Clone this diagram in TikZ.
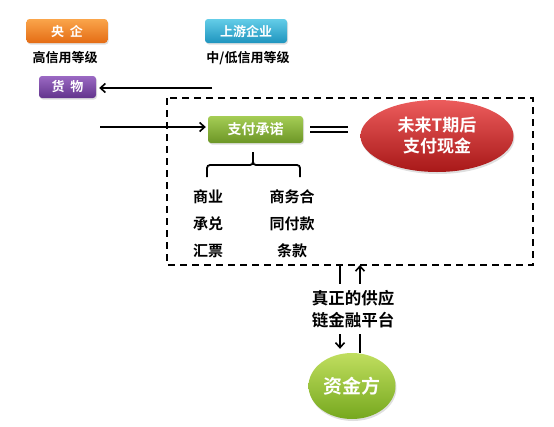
\documentclass[tikz,border=0pt]{standalone}
\usepackage{fontspec}
\newfontfamily\cjk{Noto Sans CJK SC}[BoldFont={Noto Sans CJK SC Bold}]
\usetikzlibrary{shapes.geometric,arrows.meta,shadows}
\definecolor{orangetop}{RGB}{250,165,75}
\definecolor{orangebot}{RGB}{228,108,20}
\definecolor{tealtop}{RGB}{100,205,232}
\definecolor{tealbot}{RGB}{30,148,190}
\definecolor{purptop}{RGB}{155,105,195}
\definecolor{purpbot}{RGB}{98,52,140}
\definecolor{greentop}{RGB}{165,205,85}
\definecolor{greenbot}{RGB}{108,150,38}
\definecolor{redtop}{RGB}{236,92,92}
\definecolor{redbot}{RGB}{168,24,24}
\definecolor{limetop}{RGB}{192,222,95}
\definecolor{limebot}{RGB}{118,168,30}
\tikzset{
  tag/.style={rounded corners=3pt,inner sep=0pt,text=white,
    drop shadow={opacity=0.25,shadow xshift=1pt,shadow yshift=-1.5pt},
    font=\cjk\bfseries\fontsize{13}{13}\selectfont},
  lbl/.style={inner sep=0pt,text=black,
    font=\cjk\bfseries\fontsize{13}{13}\selectfont},
  arr/.style={line width=1.6pt,-{Straight Barb[length=5pt,width=9pt]}},
}
\begin{document}
\begin{tikzpicture}[x=1pt,y=-1pt]
  \useasboundingbox (0,0) rectangle (554,426);
  \pgfmathsetmacro{\boxl}{167}
  \pgfmathsetmacro{\boxr}{533}
  \pgfmathsetmacro{\boxt}{98}
  \pgfmathsetmacro{\boxb}{265}
  % top row: firms
  \node[tag,top color=orangetop,bottom color=orangebot,minimum width=81pt,minimum height=24pt] (yangqi) at (67,31) {央\ \ 企};
  \node[lbl] (gaoxin) at (65,58) {高信用等级};
  \node[tag,top color=tealtop,bottom color=tealbot,minimum width=82pt,minimum height=24pt] (shangyou) at (246,31) {上游企业};
  \node[lbl] (zhongdi) at (248,58) {中/低信用等级};
  \node[tag,top color=purptop,bottom color=purpbot,minimum width=57pt,minimum height=22pt] (huowu) at (67.5,87) {货\ \ 物};
  \coordinate (hw-src) at (212,88);
  \draw[arr,shorten >=3pt] (hw-src) -- (hw-src -| huowu.east);
  % dashed platform
  \draw[line width=1.8pt,dash pattern=on 7pt off 5pt] (\boxl,\boxt) rectangle (\boxr,\boxb);
  \coordinate (in-src) at (100,127);
  \node[tag,top color=greentop,bottom color=greenbot,minimum width=95pt,minimum height=27pt,
    font=\cjk\bfseries\fontsize{14}{14}\selectfont] (zhifu) at (255.5,129.5) {支付承诺};
  \draw[arr,shorten >=2pt] (in-src) -- (in-src -| zhifu.west);
  \node[ellipse,top color=redtop,bottom color=redbot,minimum width=153pt,minimum height=72pt,
    inner sep=0pt,text=white,align=center,
    drop shadow={opacity=0.25,shadow xshift=1pt,shadow yshift=-2pt},
    font=\cjk\bfseries\fontsize{17}{21}\selectfont] (weilai) at (437,136) {未来T期后\\支付现金};
  \draw[line width=1.6pt] ([xshift=7pt,yshift=2.5pt]zhifu.east) -- ([xshift=-12pt,yshift=2.5pt]zhifu.east -| weilai.west);
  \draw[line width=1.6pt] ([xshift=7pt,yshift=-2.5pt]zhifu.east) -- ([xshift=-12pt,yshift=-2.5pt]zhifu.east -| weilai.west);
  % the two instruments
  \draw[line width=1.8pt,rounded corners=3pt] (207,177) -- (207,165) -- (253,165) -- (253,152);
  \draw[line width=1.8pt,rounded corners=3pt] (300,177) -- (300,165) -- (253,165) -- (253,152);
  \node[lbl,align=center,font=\cjk\bfseries\fontsize{15}{27}\selectfont] (piaoju) at (208,224) {商业\\承兑\\汇票};
  \node[lbl,align=center,font=\cjk\bfseries\fontsize{15}{27}\selectfont] (hetong) at (292,224) {商务合\\同付款\\条款};
  % funding side
  \node[ellipse,top color=limetop,bottom color=limebot,minimum width=87pt,minimum height=66pt,
    inner sep=0pt,text=white,
    drop shadow={opacity=0.25,shadow xshift=1pt,shadow yshift=-2pt},
    font=\cjk\bfseries\fontsize{19}{19}\selectfont] (zijin) at (352,386) {资金方};
  \coordinate (down-src) at (340,\boxb);
  \coordinate (up-dst) at (360,\boxb);
  \draw[arr,shorten >=4pt] (down-src) -- (down-src |- zijin.north);
  \draw[arr] (up-dst |- zijin.north) -- (up-dst);
  \node[lbl,fill=white,align=center,inner ysep=6pt,inner xsep=2pt,
    font=\cjk\bfseries\fontsize{16.5}{22}\selectfont] (pingtai) at (353,309) {真正的供应\\链金融平台};
\end{tikzpicture}
\end{document}
